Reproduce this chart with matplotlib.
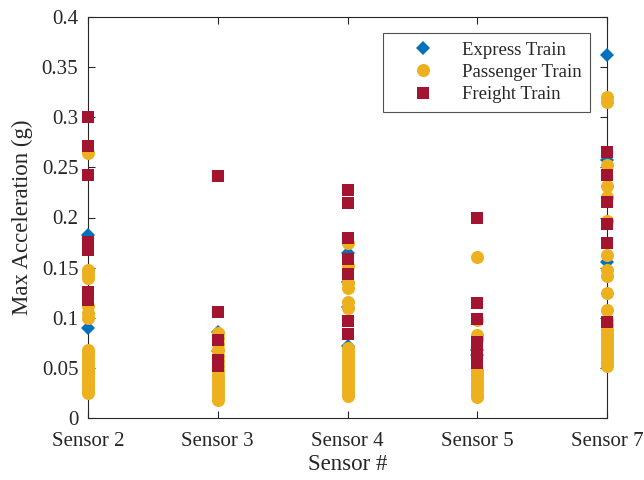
import matplotlib
matplotlib.use("Agg")
import matplotlib.pyplot as plt
import numpy as np

plt.rcParams['font.family'] = ['Liberation Serif', 'DejaVu Serif']

sensors = ['Sensor 2', 'Sensor 3', 'Sensor 4', 'Sensor 5', 'Sensor 7']

express = {
    'Sensor 2': [0.183, 0.090],
    'Sensor 3': [0.086, 0.067],
    'Sensor 4': [0.165, 0.136, 0.111, 0.072],
    'Sensor 5': [0.068, 0.063],
    'Sensor 7': [0.362, 0.257, 0.156],
}
passenger = {
    'Sensor 2': [0.264, 0.148, 0.144, 0.140, 0.112, 0.105, 0.100, 0.068, 0.065, 0.062,
                 0.058, 0.055, 0.052, 0.049, 0.046, 0.043, 0.040, 0.037, 0.034, 0.031,
                 0.028, 0.025],
    'Sensor 3': [0.085, 0.080, 0.074, 0.068, 0.062, 0.057, 0.052, 0.047, 0.042, 0.038,
                 0.034, 0.030, 0.026, 0.022, 0.018],
    'Sensor 4': [0.175, 0.152, 0.135, 0.130, 0.116, 0.110, 0.070, 0.066, 0.062, 0.058,
                 0.054, 0.050, 0.046, 0.042, 0.038, 0.034, 0.030, 0.026, 0.022],
    'Sensor 5': [0.161, 0.098, 0.083, 0.079, 0.048, 0.044, 0.040, 0.036, 0.032, 0.028,
                 0.024, 0.021],
    'Sensor 7': [0.320, 0.315, 0.252, 0.231, 0.220, 0.197, 0.163, 0.148, 0.142, 0.125,
                 0.108, 0.098, 0.093, 0.088, 0.084, 0.080, 0.076, 0.072, 0.068, 0.064,
                 0.060, 0.056, 0.052],
}
freight = {
    'Sensor 2': [0.300, 0.271, 0.242, 0.176, 0.168, 0.126, 0.118],
    'Sensor 3': [0.241, 0.106, 0.078, 0.058, 0.052],
    'Sensor 4': [0.227, 0.214, 0.180, 0.159, 0.144, 0.097, 0.084],
    'Sensor 5': [0.200, 0.115, 0.099, 0.076, 0.070, 0.065, 0.060, 0.055],
    'Sensor 7': [0.265, 0.242, 0.215, 0.194, 0.175, 0.096],
}

series = [
    ('Express Train', express, 'D', '#0072BD', 7.0),
    ('Passenger Train', passenger, 'o', '#EDB120', 9.4),
    ('Freight Train', freight, 's', '#A2142F', 8.6),
]

fig = plt.figure(figsize=(6.44, 4.80), dpi=100)
ax = fig.add_axes([88/644, 1-418/480, (607-88)/644, (418-17)/480])

for label, data, marker, color, ms in series:
    xs, ys = [], []
    for i, s in enumerate(sensors):
        xs += [i + 1] * len(data[s])
        ys += data[s]
    ax.plot(xs, ys, linestyle='none', marker=marker, color=color,
            markersize=ms, markeredgewidth=0, label=label, clip_on=False, zorder=3)

ax.set_xlim(1, 5)
ax.set_ylim(0, 0.4)
ax.set_xticks(range(1, 6))
ax.set_xticklabels(sensors)
yt = np.arange(0, 0.401, 0.05)
ax.set_yticks(yt)
ax.set_yticklabels(['0', '0.05', '0.1', '0.15', '0.2', '0.25', '0.3', '0.35', '0.4'])
ax.tick_params(direction='in', length=5, width=0.8, labelsize=15,
               top=True, right=True, colors='#262626', labelcolor='#262626')
ax.tick_params(axis='x', pad=10)
ax.tick_params(axis='y', pad=7)
for sp in ax.spines.values():
    sp.set_linewidth(0.8)
    sp.set_color('#262626')
    sp.set_zorder(2)
ax.set_xlabel('Sensor #', fontsize=16.5, color='#262626', labelpad=2)
ax.set_ylabel('Max Acceleration (g)', fontsize=16.5, color='#262626', labelpad=6)

leg = ax.legend(loc='upper right', bbox_to_anchor=(590/644, 1-33/480),
                bbox_transform=fig.transFigure, borderaxespad=0,
                fontsize=13.5, frameon=True, fancybox=False, handlelength=3.37,
                handletextpad=0.4, borderpad=0.45, labelspacing=0.28,
                numpoints=1)
leg.get_frame().set_edgecolor('#262626')
leg.get_frame().set_linewidth(0.8)
for t in leg.get_texts():
    t.set_color('#262626')

fig.savefig('out.png', dpi=100)
